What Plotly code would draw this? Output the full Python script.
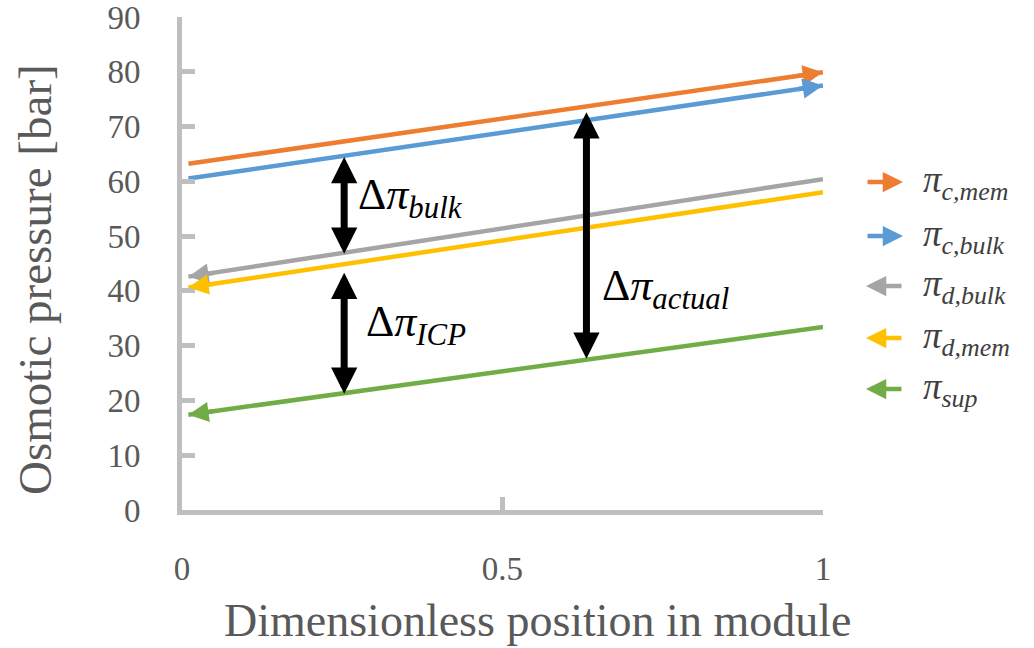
import numpy as np
import plotly.graph_objects as go

# ---------------- data ----------------
x_pos = [0.01, 1.0]
pi_c_mem = [63.2, 79.9]
pi_c_bulk = [60.5, 77.5]
pi_d_bulk = [42.6, 60.4]
pi_d_mem = [40.6, 58.0]
pi_sup = [17.4, 33.4]

series_values = [pi_c_mem, pi_c_bulk, pi_d_bulk, pi_d_mem, pi_sup]
series_names = ["c,mem", "c,bulk", "d,bulk", "d,mem", "sup"]
series_colors = ["#ED7D31", "#5B9BD5", "#A5A5A5", "#FFC000", "#70AD47"]
series_head = ["right", "right", "left", "left", "left"]  # flow direction

delta_labels = ["bulk", "ICP", "actual"]
delta_x = [0.253, 0.253, 0.631]
delta_top = [64.7, 43.6, 72.9]
delta_bottom = [46.8, 21.2, 27.6]
delta_label_x = [0.271, 0.284, 0.652]
delta_label_y = [57.0, 33.8, 40.5]

x_ticks = [0, 0.5, 1]
x_ticklabels = ["0", "0.5", "1"]
y_ticks = [0, 10, 20, 30, 40, 50, 60, 70, 80, 90]

x_title = "Dimensionless position in module"
y_title = "Osmotic pressure [bar]"

# ---------------- layout constants ----------------
W, H = 1034, 648
L, R, T, B = 182, 211, 17, 138
AX_COLOR = "#BFBFBF"
TXT_COLOR = "#595959"
SERIF = "Liberation Serif"
MATH = "Liberation Serif"

fig = go.Figure()
annotations = []

for vals, name, col, head in zip(series_values, series_names, series_colors, series_head):
    fig.add_trace(go.Scatter(
        x=x_pos, y=vals, mode="lines", name=name,
        line=dict(color=col, width=4.5), showlegend=False, hoverinfo="skip"))
    # arrowhead along the line
    if head == "right":
        tip_x, tail_x = x_pos[-1], x_pos[-1] - 0.04
    else:
        tip_x, tail_x = x_pos[0], x_pos[0] + 0.04
    annotations.append(dict(
        x=tip_x, y=float(np.interp(tip_x, x_pos, vals)),
        ax=tail_x, ay=float(np.interp(tail_x, x_pos, vals)),
        xref="x", yref="y", axref="x", ayref="y",
        showarrow=True, arrowhead=2, arrowsize=0.9, arrowwidth=4.5,
        arrowcolor=col, text=""))

# black double arrows
for lab, dx, yt, yb, lx, ly in zip(delta_labels, delta_x, delta_top, delta_bottom,
                                   delta_label_x, delta_label_y):
    annotations.append(dict(
        x=dx, y=yb, ax=dx, ay=yt, xref="x", yref="y", axref="x", ayref="y",
        showarrow=True, arrowhead=2, startarrowhead=2, arrowside="end+start",
        arrowsize=0.75, startarrowsize=0.75, arrowwidth=7, arrowcolor="black",
        text=""))
    annotations.append(dict(
        x=lx, y=ly, xref="x", yref="y", xanchor="left", yanchor="middle",
        showarrow=False,
        text="Δ<i>π</i><sub><i>" + lab + "</i></sub>",
        font=dict(family=MATH, size=44, color="black")))

# manual legend (arrow glyph + label)
plot_w = W - L - R
plot_h = H - T - B
leg_y_px = [182, 236, 286, 338, 389]
arrow_left_px, arrow_right_px, text_left_px = 866, 903, 921
for name, col, head, ypx in zip(series_names, series_colors, series_head, leg_y_px):
    yp = (H - B - ypx) / plot_h
    if head == "right":
        tip, off = arrow_right_px, -(arrow_right_px - arrow_left_px)
    else:
        tip, off = arrow_left_px, (arrow_right_px - arrow_left_px)
    annotations.append(dict(
        x=(tip - L) / plot_w, y=yp, xref="paper", yref="paper",
        ax=off, ay=0, showarrow=True, arrowhead=2, arrowsize=0.9,
        arrowwidth=4.5, arrowcolor=col, text=""))
    annotations.append(dict(
        x=(text_left_px - L) / plot_w, y=yp, xref="paper", yref="paper",
        xanchor="left", yanchor="middle", showarrow=False,
        text="<i>π</i><sub><i>" + name + "</i></sub>",
        font=dict(family=MATH, size=37, color="#404040")))

# axis titles (placed as in the reference, slightly off the plot centre)
annotations.append(dict(
    x=(537 - L) / plot_w, y=(H - B - 648) / plot_h, xref="paper", yref="paper",
    xanchor="center", yanchor="bottom", showarrow=False, text=x_title,
    font=dict(family=SERIF, size=46, color=TXT_COLOR)))
annotations.append(dict(
    x=(35 - L) / plot_w, y=(H - B - 280) / plot_h, xref="paper", yref="paper",
    xanchor="center", yanchor="middle", showarrow=False, text=y_title,
    textangle=-90, font=dict(family=SERIF, size=47, color=TXT_COLOR)))

fig.update_layout(
    width=W, height=H,
    margin=dict(l=L, r=R, t=T, b=B, pad=0),
    paper_bgcolor="white", plot_bgcolor="white",
    showlegend=False,
    annotations=annotations,
    font=dict(family=SERIF, color=TXT_COLOR),
)
fig.update_xaxes(
    range=[0, 1.0001], tickvals=x_ticks, ticktext=x_ticklabels,
    showline=True, linecolor=AX_COLOR, linewidth=5,
    ticks="inside", ticklen=13, tickwidth=5, tickcolor=AX_COLOR,
    showgrid=False, zeroline=False, ticklabelstandoff=25,
    ticklabeloverflow="allow", automargin=False,
    tickfont=dict(family=SERIF, size=33, color=TXT_COLOR),
)
fig.update_yaxes(
    range=[0, 90.001], tickvals=y_ticks,
    showline=True, linecolor=AX_COLOR, linewidth=5,
    ticks="inside", ticklen=13, tickwidth=5, tickcolor=AX_COLOR,
    showgrid=False, zeroline=False, ticklabelstandoff=30,
    ticklabeloverflow="allow", automargin=False,
    tickfont=dict(family=SERIF, size=33, color=TXT_COLOR),
)

fig.write_html("out.html")
